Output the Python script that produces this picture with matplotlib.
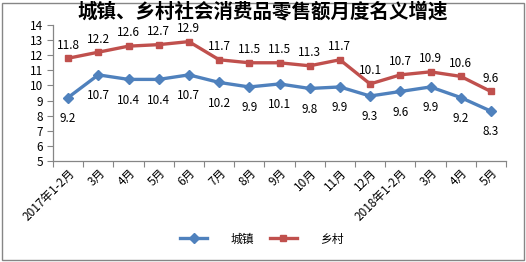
import matplotlib
matplotlib.use("Agg")
import matplotlib.pyplot as plt
from matplotlib.patches import Rectangle

plt.rcParams['font.family'] = ['Noto Sans CJK SC', 'DejaVu Sans']

meses = ['2017年1-2月', '3月', '4月', '5月', '6月', '7月', '8月', '9月', '10月',
         '11月', '12月', '2018年1-2月', '3月', '4月', '5月']
chengzhen = [9.2, 10.7, 10.4, 10.4, 10.7, 10.2, 9.9, 10.1, 9.8, 9.9, 9.3, 9.6, 9.9, 9.2, 8.3]
xiangcun = [11.8, 12.2, 12.6, 12.7, 12.9, 11.7, 11.5, 11.5, 11.3, 11.7, 10.1, 10.7, 10.9, 10.6, 9.6]

azul = '#4F81BD'
rojo = '#C0504D'
gris = '#868686'

fig = plt.figure(figsize=(5.26, 2.62), dpi=100)
ax = fig.add_axes([53 / 526, 1 - 161 / 262, 453 / 526, 136 / 262])

x = list(range(len(meses)))
ax.plot(x, chengzhen, color=azul, lw=2.4, marker='D', markersize=5, label='城镇')
ax.plot(x, xiangcun, color=rojo, lw=2.4, marker='s', markersize=5, label='乡村')

# etiquetas de datos
for i, v in enumerate(chengzhen):
    ax.annotate(f'{v}', (i, v), xytext=(0, -15), textcoords='offset points',
                ha='center', va='center', fontsize=8.5)
for i, v in enumerate(xiangcun):
    ax.annotate(f'{v}', (i, v), xytext=(0, 9.5), textcoords='offset points',
                ha='center', va='center', fontsize=8.5)

ax.set_xlim(-0.5, len(meses) - 0.5)
ax.set_ylim(5, 14)
ax.set_yticks(range(5, 15))
ax.set_xticks([i - 0.5 for i in range(len(meses) + 1)])
ax.set_xticklabels([])
ax.set_xticks(x, minor=True)
ax.set_xticklabels(meses, minor=True, rotation=45, ha='right', va='top',
                   rotation_mode='anchor', fontsize=8.5)
ax.tick_params(axis='x', which='minor', length=0, pad=4)
ax.tick_params(axis='x', which='major', length=4, color=gris)
ax.tick_params(axis='y', length=4, color=gris, labelsize=8.5, pad=3)

for s in ['top', 'right']:
    ax.spines[s].set_visible(False)
for s in ['left', 'bottom']:
    ax.spines[s].set_color(gris)
    ax.spines[s].set_linewidth(0.9)

fig.text(0.5, 1 - 11.5 / 262, '城镇、乡村社会消费品零售额月度名义增速', ha='center',
         va='center', fontsize=14, fontweight='bold')

fig.legend(loc='center', bbox_to_anchor=(262 / 526, 1 - 239 / 262), ncol=2,
           frameon=False, fontsize=8.5, handlelength=2.3, columnspacing=1.3,
           handletextpad=2.0)

fig.patches.append(Rectangle((2 / 526, 2 / 262), 522 / 526, 257 / 262,
                             transform=fig.transFigure, fill=False,
                             edgecolor=gris, lw=1))

fig.savefig('out.png', dpi=100)
